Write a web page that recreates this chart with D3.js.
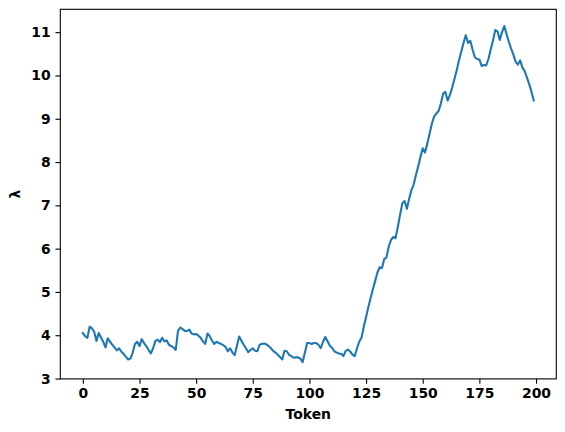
<!DOCTYPE html>
<html>
  <head>
    <meta charset="utf-8">
    <style>
      body { margin: 0; background: #fff; }
      svg text { font-family: "DejaVu Sans", sans-serif; font-weight: bold; font-size: 13.9px; fill: #000; }
      .domain, .tick line { stroke: #000; stroke-width: 1.1px; }
      .line { fill: none; stroke: #1f77b4; stroke-width: 2.1px; stroke-linejoin: round; stroke-linecap: square; }
    </style>
    <script src="https://cdn.jsdelivr.net/npm/d3@7"></script>
  </head>
  <body>
    <script>
    // lambda per token
    var tokens = d3.range(0, 200);
    var lambda = [
      4.05, 3.98, 3.94, 4.20, 4.16, 4.08, 3.87, 4.05, 3.95, 3.85,
      3.72, 3.93, 3.85, 3.78, 3.72, 3.65, 3.70, 3.62, 3.57, 3.50,
      3.44, 3.46, 3.60, 3.80, 3.85, 3.75, 3.91, 3.82, 3.75, 3.66,
      3.58, 3.70, 3.87, 3.90, 3.84, 3.94, 3.86, 3.88, 3.78, 3.75,
      3.72, 3.66, 4.10, 4.18, 4.14, 4.10, 4.10, 4.13, 4.04, 4.02,
      4.03, 3.99, 3.94, 3.86, 3.80, 4.04, 3.98, 3.88, 3.80, 3.85,
      3.82, 3.80, 3.77, 3.73, 3.63, 3.70, 3.60, 3.54, 3.76, 3.97,
      3.87, 3.78, 3.70, 3.61, 3.66, 3.70, 3.64, 3.63, 3.78, 3.80,
      3.81, 3.79, 3.75, 3.70, 3.64, 3.60, 3.55, 3.50, 3.44, 3.64,
      3.63, 3.55, 3.52, 3.48, 3.49, 3.49, 3.46, 3.38, 3.60, 3.82,
      3.82, 3.80, 3.82, 3.82, 3.78, 3.70, 3.85, 3.96, 3.86, 3.76,
      3.71, 3.63, 3.60, 3.58, 3.57, 3.52, 3.64, 3.67, 3.62, 3.55,
      3.52, 3.70, 3.85, 3.95, 4.20, 4.42, 4.65, 4.86, 5.06, 5.25,
      5.45, 5.57, 5.55, 5.76, 5.80, 6.05, 6.20, 6.27, 6.24, 6.50,
      6.78, 7.05, 7.10, 6.92, 7.15, 7.35, 7.48, 7.70, 7.90, 8.12,
      8.32, 8.22, 8.42, 8.65, 8.88, 9.05, 9.12, 9.18, 9.35, 9.58,
      9.62, 9.42, 9.55, 9.72, 9.92, 10.12, 10.35, 10.55, 10.75, 10.93,
      10.75, 10.80, 10.60, 10.42, 10.38, 10.37, 10.22, 10.24, 10.23, 10.38,
      10.60, 10.80, 11.05, 11.02, 10.82, 11.00, 11.14, 10.95, 10.78, 10.62,
      10.48, 10.32, 10.25, 10.35, 10.18, 10.10, 9.95, 9.80, 9.62, 9.42
    ];
    var xTicks = [0, 25, 50, 75, 100, 125, 150, 175, 200];
    var yTicks = [3, 4, 5, 6, 7, 8, 9, 10, 11];

    var data = tokens.map(function(t, i) { return {token: t, value: lambda[i]}; });

    var margin = {top: 9.3, left: 60.3},
        width = 496,
        height = 369.6,
        tick = 4.86;

    // matplotlib style 5% padding
    function pad(ext) {
      var r = ext[1] - ext[0];
      return [ext[0] - 0.05 * r, ext[1] + 0.05 * r];
    }

    var x = d3.scaleLinear()
              .domain(pad(d3.extent(tokens)))
              .range([0, width]);
    var y = d3.scaleLinear()
              .domain(pad(d3.extent(lambda)))
              .range([height, 0]);

    var svg = d3.select("body")
                .append("svg")
                .attr("width", 565)
                .attr("height", 432);
    var g = svg.append("g")
               .attr("transform", "translate(" + margin.left + "," + margin.top + ")");

    g.append("path")
     .datum(data)
     .attr("class", "line")
     .attr("d", d3.line()
                  .x(function(d) { return x(d.token); })
                  .y(function(d) { return y(d.value); }));

    var xAxis = g.append("g")
                 .attr("transform", "translate(0," + height + ")")
                 .call(d3.axisBottom(x).tickValues(xTicks).tickSize(tick).tickPadding(tick).tickSizeOuter(0));
    var yAxis = g.append("g")
                 .call(d3.axisLeft(y).tickValues(yTicks).tickSize(tick).tickPadding(tick).tickSizeOuter(0));
    [xAxis, yAxis].forEach(function(a) {
      a.attr("font-family", null).attr("font-size", null);
      a.select(".domain").remove();
    });

    // frame
    g.append("rect")
     .attr("width", width)
     .attr("height", height)
     .attr("fill", "none")
     .attr("stroke", "#000")
     .attr("stroke-width", 1.1);

    g.append("text")
     .attr("x", width / 2)
     .attr("y", height + 40.5)
     .attr("text-anchor", "middle")
     .text("Token");

    g.append("text")
     .attr("transform", "translate(-40," + (height / 2) + ") rotate(-90)")
     .attr("text-anchor", "middle")
     .text("λ");
    </script>
  </body>
</html>
